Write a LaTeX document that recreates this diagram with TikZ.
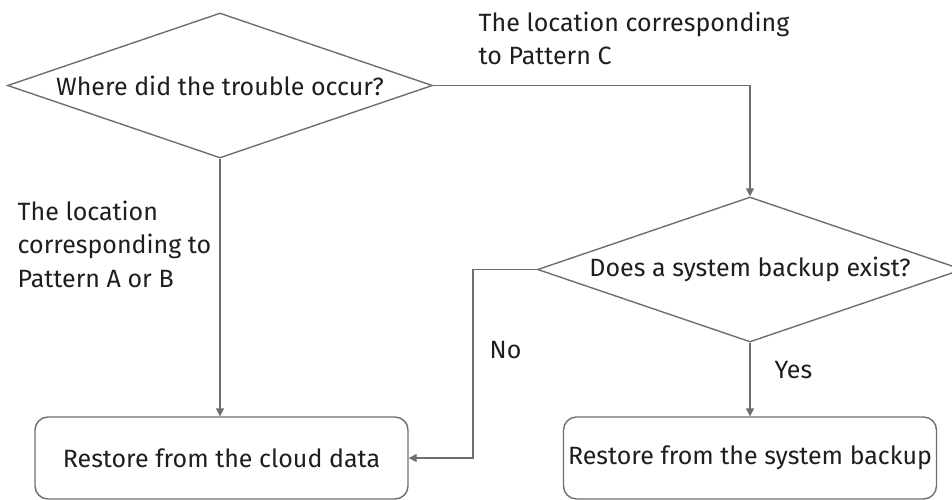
\documentclass[tikz,border=0pt]{standalone}
\usepackage{fontspec}
\setmainfont{Fira Sans}
\usepackage{tikz}
\usetikzlibrary{arrows.meta,shapes.geometric}
\definecolor{line_gray}{RGB}{110,110,110}
\definecolor{text_black}{RGB}{30,30,30}

\begin{document}
\begin{tikzpicture}[->,line width=1.4pt,>={Triangle[length=8pt,width=8pt]},x=1pt,y=-1pt,
    font=\fontsize{25}{33.5}\selectfont]
    \tikzstyle{decision}=[draw=line_gray, diamond, inner sep=0pt, aspect=2.9, minimum width=425pt, minimum height=145pt, text=text_black]
    \tikzstyle{process}=[draw=line_gray, rounded corners=13pt, minimum width=373pt, minimum height=82pt, text=text_black]
    \tikzstyle{note}=[text=text_black, align=left, anchor=north west, inner sep=0pt]

    \useasboundingbox (0,0) rectangle (952,500);

    \node[decision] (where)  at (220,85.5)  {Where did the trouble occur?};
    \node[decision] (backup) at (750,269.5) {Does a system backup exist?};
    \node[process]  (cloud)  at (221.5,458) {Restore from the cloud data};
    \node[process]  (sysbk)  at (750,458)   {Restore from the system backup};

    \node[note] (labC)   at (478,11)  {The location corresponding\\to Pattern C};
    \node[note] (labAB)  at (17,200)  {The location\\corresponding to\\Pattern A or B};
    \node[note] (labno)  at (489,341) {No};
    \node[note] (labyes) at (774,361) {Yes};

    \draw[line_gray] (where.south) -- (where.south |- cloud.north);
    \draw[line_gray] (where) -| (backup);
    \draw[line_gray] (backup.west) -- ++(-64,0) |- (cloud.east);
    \draw[line_gray] (backup) -- (sysbk);
  \end{tikzpicture}
\end{document}
